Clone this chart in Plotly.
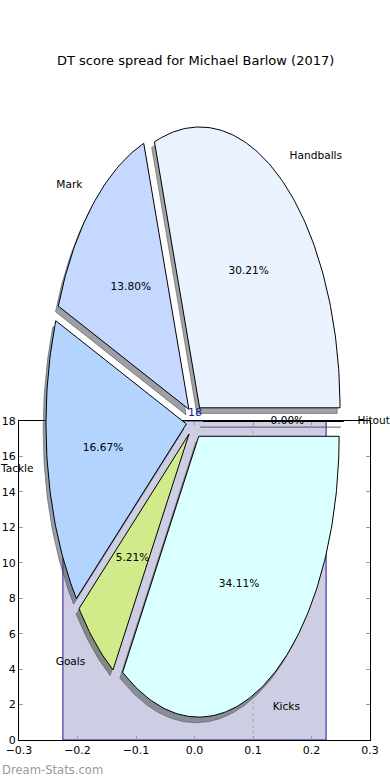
import numpy as np
import plotly.graph_objects as go

# ---------------- data ----------------
title_text = "DT score spread for Michael Barlow (2017)"
categories = ["Handballs", "Mark", "Tackle", "Goals", "Kicks", "Hitout"]
dt_points = [348, 159, 192, 60, 393, 0]
slice_colors = ["#eaf1ff", "#c5d8ff", "#b3d4ff", "#d1eb8b", "#d9ffff", "#ffe4e1"]

bar_x = [0.0]
bar_values = [18]
ref_line_x = [0.1]

x_ticks = [-0.3, -0.2, -0.1, 0.0, 0.1, 0.2, 0.3]
y_ticks = [0, 2, 4, 6, 8, 10, 12, 14, 16, 18]

watermark = "Dream-Stats.com"

# ---------------- style / geometry constants ----------------
FONT = "DejaVu Sans"
W, H = 390, 780
AX_L, AX_R, AX_T, AX_B = 19, 370, 421, 740        # bar-axes box in px
PIE_CX, PIE_CY = 194.7, 421.5                      # pie centre in px
PX_X, PX_Y = 140.4, 280.8                          # px per pie unit
EXPLODE = 0.06
LABEL_DIST = 1.1
PCT_DIST = 0.6
SHADOW = 0.02
START_ANGLE = 0.0
LABEL_SIZE = 10.6


def hex_to_rgb(h):
    h = h.lstrip("#")
    return tuple(int(h[i:i + 2], 16) for i in (0, 2, 4))


fig = go.Figure()

# ---------------- background axes (bar) ----------------
fig.add_trace(go.Bar(
    x=bar_x, y=bar_values, width=0.45,
    marker=dict(color="#cdcde3", line=dict(color="#1a1a96", width=1)),
    xaxis="x", yaxis="y", hoverinfo="skip",
))
fig.add_trace(go.Scatter(
    x=ref_line_x * 2, y=[0, bar_values[0]], mode="lines",
    line=dict(color="#a8a8a8", width=1, dash="dot"),
    xaxis="x", yaxis="y", hoverinfo="skip",
))

# ---------------- pie (elliptical, exploded, shadowed) ----------------
total = float(sum(dt_points))
fracs = [v / total for v in dt_points]
angles = []
theta = START_ANGLE
for f in fracs:
    angles.append((theta, theta + 360.0 * f))
    theta += 360.0 * f


def wedge(cx, cy, t1, t2):
    n = max(2, int(abs(t2 - t1))) + 1
    th = np.radians(np.linspace(t1, t2, n))
    xs = np.concatenate([[cx], cx + np.cos(th), [cx]])
    ys = np.concatenate([[cy], cy + np.sin(th), [cy]])
    return xs, ys


centers = []
for (t1, t2) in angles:
    m = np.radians((t1 + t2) / 2)
    centers.append((EXPLODE * np.cos(m), EXPLODE * np.sin(m), m))

# shadows first (below all wedges)
for (t1, t2), (cx, cy, m), col in zip(angles, centers, slice_colors):
    xs, ys = wedge(cx - SHADOW, cy - SHADOW, t1, t2)
    r, g, b = [int(0.3 * c) for c in hex_to_rgb(col)]
    rgba = f"rgba({r},{g},{b},0.5)"
    fig.add_trace(go.Scatter(
        x=xs, y=ys, mode="lines", fill="toself", fillcolor=rgba,
        line=dict(color=rgba, width=1), xaxis="x2", yaxis="y2", hoverinfo="skip",
    ))

for (t1, t2), (cx, cy, m), col in zip(angles, centers, slice_colors):
    xs, ys = wedge(cx, cy, t1, t2)
    fig.add_trace(go.Scatter(
        x=xs, y=ys, mode="lines", fill="toself", fillcolor=col,
        line=dict(color="black", width=1), xaxis="x2", yaxis="y2", hoverinfo="skip",
    ))

# labels
lx, ly, lpos = [], [], []
px_, py_ = [], []
pct_text = []
for cat, f, (cx, cy, m) in zip(categories, fracs, centers):
    xt = cx + LABEL_DIST * np.cos(m)
    yt = cy + LABEL_DIST * np.sin(m)
    lx.append(xt)
    ly.append(yt)
    lpos.append("middle right" if xt > 0 else "middle left")
    px_.append(cx + PCT_DIST * np.cos(m))
    py_.append(cy + PCT_DIST * np.sin(m))
    pct_text.append(f"{100 * f:.2f}%")

fig.add_trace(go.Scatter(
    x=lx, y=ly, mode="text", text=categories, textposition=lpos,
    textfont=dict(family=FONT, size=LABEL_SIZE, color="black"),
    xaxis="x2", yaxis="y2", hoverinfo="skip", cliponaxis=False,
))
fig.add_trace(go.Scatter(
    x=px_, y=py_, mode="text", text=pct_text, textposition="middle center",
    textfont=dict(family=FONT, size=LABEL_SIZE, color="black"),
    xaxis="x2", yaxis="y2", hoverinfo="skip", cliponaxis=False,
))

# ---------------- layout ----------------
axis_common = dict(
    showline=True, linecolor="black", linewidth=1, mirror="ticks",
    ticks="inside", ticklen=4, tickcolor="#999999", tickwidth=1,
    showgrid=False, zeroline=False, fixedrange=True, automargin=False,
    tickfont=dict(family=FONT, size=11, color="black"),
)

fig.update_layout(
    template="none",
    width=W, height=H, autosize=False,
    margin=dict(l=0, r=0, t=0, b=0, pad=0),
    paper_bgcolor="white", plot_bgcolor="rgba(0,0,0,0)",
    showlegend=False,
    font=dict(family=FONT, size=11, color="black"),
    xaxis=dict(domain=[AX_L / W, AX_R / W], range=[-0.3, 0.3], tickvals=x_ticks,
               tickformat=".1f", anchor="y", **axis_common),
    yaxis=dict(domain=[1 - AX_B / H, 1 - AX_T / H], range=[0, 18], tickvals=y_ticks,
               anchor="x", **axis_common),
    xaxis2=dict(domain=[0, 1], range=[(0 - PIE_CX) / PX_X, (W - PIE_CX) / PX_X],
                visible=False, anchor="y2", fixedrange=True, automargin=False),
    yaxis2=dict(domain=[0, 1], range=[(PIE_CY - H) / PX_Y, PIE_CY / PX_Y],
                visible=False, anchor="x2", fixedrange=True, automargin=False),
    annotations=[
        dict(text=title_text, x=0.5, y=1 - 61 / H, xref="paper", yref="paper",
             xanchor="center", yanchor="middle", showarrow=False,
             font=dict(family=FONT, size=13, color="black")),
        dict(text=str(bar_values[0]), x=bar_x[0], y=bar_values[0], xref="x", yref="y",
             xanchor="center", yanchor="bottom", showarrow=False,
             font=dict(family=FONT, size=11, color="#1a1a96")),
        dict(text=watermark, x=0, y=1 - 770 / H, xref="paper", yref="paper",
             xanchor="left", yanchor="middle", showarrow=False,
             font=dict(family=FONT, size=11.6, color="#999999")),
    ],
)

fig.write_html(
    "out.html",
    config={"displayModeBar": False, "staticPlot": True},
    post_script="document.body.style.margin='0';document.body.style.overflow='hidden';",
)
